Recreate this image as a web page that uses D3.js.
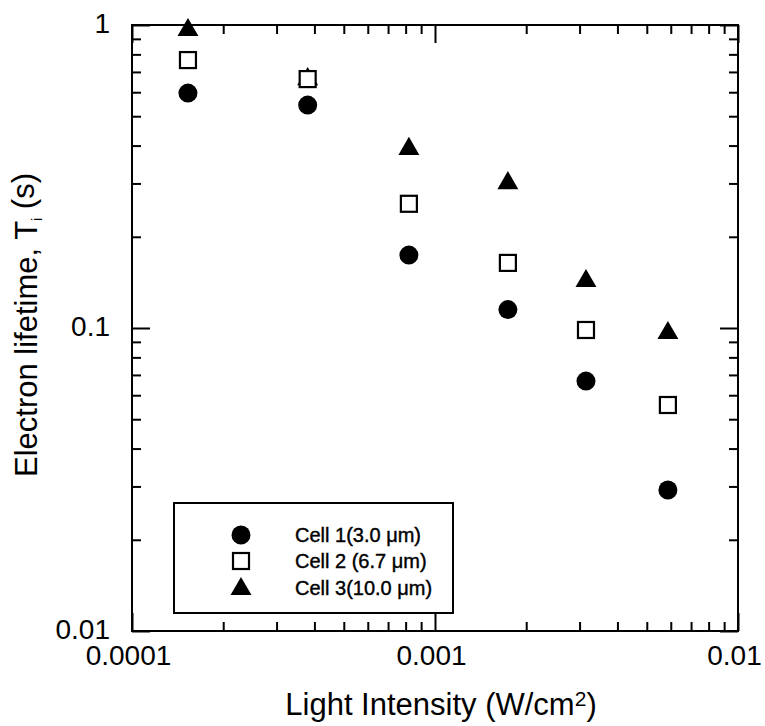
<!DOCTYPE html>
<html>
<head>
<meta charset="utf-8">
<script src="https://cdn.jsdelivr.net/npm/d3@7"></script>
<style>
  body { margin: 0; background: #fff; }
  svg { display: block; }
  text { font-family: "Liberation Sans", Arial, sans-serif; fill: #000; }
</style>
</head>
<body>
<svg id="chart" width="765" height="726"></svg>
<script>
// light intensity (W/cm2) for each measurement
const intensity = [1.53e-4, 3.8e-4, 8.2e-4, 1.74e-3, 3.15e-3, 5.87e-3];
// electron lifetime (s) per cell
const cell1 = [0.596, 0.544, 0.174, 0.115, 0.0668, 0.0292];
const cell2 = [0.766, 0.663, 0.257, 0.164, 0.0985, 0.0557];
const cell3 = [0.97, 0.668, 0.393, 0.303, 0.144, 0.097];
const seriesNames = ["Cell 1(3.0 \u03bcm)", "Cell 2 (6.7 \u03bcm)", "Cell 3(10.0 \u03bcm)"];
const xTickLabels = ["0.0001", "0.001", "0.01"];
const yTickLabels = ["0.01", "0.1", "1"];

const svg = d3.select("#chart");
const pL = 132, pR = 738, pT = 25, pB = 631;

const x = d3.scaleLog().domain([1e-4, 1e-2]).range([pL, pR]);
const y = d3.scaleLog().domain([0.01, 1]).range([pB, pT]);

const xMajor = xTickLabels.map(Number);
const yMajor = yTickLabels.map(Number);
const minorsOf = (lo, hi) => {
  let out = [];
  for (let d = lo; d < hi; d *= 10)
    for (let k = 2; k <= 9; k++) out.push(d * k);
  return out;
};
const xMinor = minorsOf(1e-4, 1e-2);
const yMinor = minorsOf(0.01, 1);

function styleAxis(g) {
  g.attr("font-family", null).attr("font-size", null);
  g.select(".domain").remove();
  g.selectAll(".tick line").attr("stroke", "#000").attr("stroke-width", 2);
  g.selectAll(".tick text").style("font-size", "28px").attr("fill", "#000");
}

// bottom
svg.append("g").attr("transform", `translate(0,${pB})`)
  .call(d3.axisBottom(x).tickValues(xMajor).tickSize(-18).tickPadding(14)
    .tickFormat((d, i) => xTickLabels[i]))
  .call(styleAxis)
  .call(g => g.selectAll(".tick text").attr("dx", -4));
svg.append("g").attr("transform", `translate(0,${pB})`)
  .call(d3.axisBottom(x).tickValues(xMinor).tickSize(-9).tickFormat(""))
  .call(styleAxis);
// top
svg.append("g").attr("transform", `translate(0,${pT})`)
  .call(d3.axisTop(x).tickValues(xMajor).tickSize(-18).tickFormat(""))
  .call(styleAxis);
svg.append("g").attr("transform", `translate(0,${pT})`)
  .call(d3.axisTop(x).tickValues(xMinor).tickSize(-9).tickFormat(""))
  .call(styleAxis);
// left
svg.append("g").attr("transform", `translate(${pL},0)`)
  .call(d3.axisLeft(y).tickValues(yMajor).tickSize(-18).tickPadding(22)
    .tickFormat((d, i) => yTickLabels[i]))
  .call(styleAxis)
  .call(g => g.selectAll(".tick text").attr("dy", "0.25em"));
svg.append("g").attr("transform", `translate(${pL},0)`)
  .call(d3.axisLeft(y).tickValues(yMinor).tickSize(-9).tickFormat(""))
  .call(styleAxis);
// right
svg.append("g").attr("transform", `translate(${pR},0)`)
  .call(d3.axisRight(y).tickValues(yMajor).tickSize(-18).tickFormat(""))
  .call(styleAxis);
svg.append("g").attr("transform", `translate(${pR},0)`)
  .call(d3.axisRight(y).tickValues(yMinor).tickSize(-9).tickFormat(""))
  .call(styleAxis);

// frame
svg.append("rect")
  .attr("x", pL).attr("y", pT)
  .attr("width", pR - pL).attr("height", pB - pT)
  .attr("fill", "none").attr("stroke", "#000").attr("stroke-width", 2);

// markers
const tri = d3.symbol().type(d3.symbolTriangle).size(190);
function drawMarker(g, kind) {
  if (kind === 0) {
    g.append("circle").attr("r", 9.5).attr("fill", "#000");
  } else if (kind === 1) {
    g.append("rect").attr("x", -8).attr("y", -8).attr("width", 16).attr("height", 16)
      .attr("fill", "#fff").attr("stroke", "#000").attr("stroke-width", 2.2);
  } else {
    g.append("path").attr("d", tri).attr("fill", "#000").attr("transform", "translate(0,1)");
  }
}

const series = [cell1, cell2, cell3];
// triangles first, then squares, then circles so overlaps look like the original
[2, 1, 0].forEach(k => {
  series[k].forEach((v, i) => {
    const g = svg.append("g").attr("transform", `translate(${x(intensity[i])},${y(v)})`);
    drawMarker(g, k);
  });
});

// legend
const lg = svg.append("g");
lg.append("rect").attr("x", 174).attr("y", 503).attr("width", 279).attr("height", 110)
  .attr("fill", "#fff").attr("stroke", "#000").attr("stroke-width", 2);
const rowY = [535, 561, 588];
seriesNames.forEach((name, k) => {
  const g = lg.append("g").attr("transform", `translate(241,${rowY[k]})`);
  drawMarker(g, k);
  lg.append("text").attr("x", 295).attr("y", rowY[k]).attr("dy", "0.36em")
    .style("font-size", "20px").attr("stroke", "#000").attr("stroke-width", 0.4)
    .text(name);
});

// axis titles
const xt = svg.append("text").attr("x", 441).attr("y", 715)
  .attr("text-anchor", "middle").style("font-size", "31px");
xt.append("tspan").text("Light Intensity (W/cm");
xt.append("tspan").attr("dy", "-0.45em").style("font-size", "21px").text("2");
xt.append("tspan").attr("dy", "0.3em").text(")");

const yt = svg.append("text").attr("transform", "translate(37,325) rotate(-90)")
  .attr("text-anchor", "middle").style("font-size", "31px");
yt.append("tspan").text("Electron lifetime, T");
yt.append("tspan").attr("dy", "0.35em").style("font-size", "14px").text("i");
yt.append("tspan").attr("dy", "-0.25em").text(" (s)");
</script>
</body>
</html>
